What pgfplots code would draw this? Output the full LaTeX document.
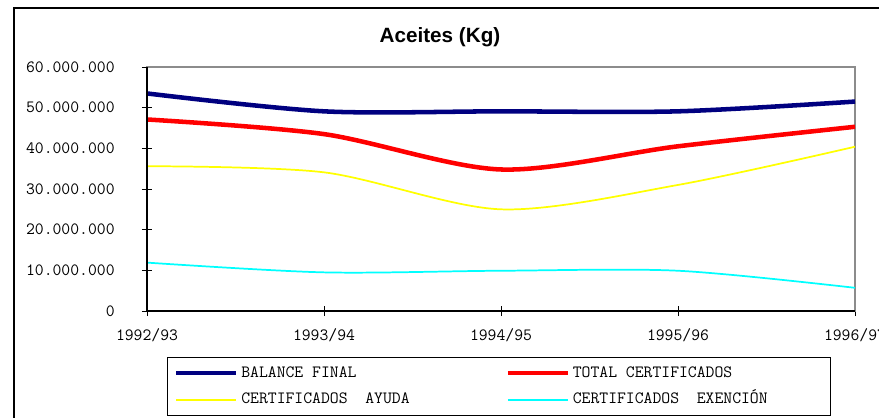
\documentclass[border=0pt]{standalone}
\usepackage{fontspec}
\setmainfont{Liberation Sans}
\usepackage{pgfplots}
\pgfplotsset{compat=1.18}
\definecolor{cNavy}{RGB}{0,0,128}
\definecolor{cRed}{RGB}{255,0,0}
\definecolor{cYellow}{RGB}{255,255,0}
\definecolor{cCyan}{RGB}{0,255,255}
\begin{document}
\begin{tikzpicture}
\useasboundingbox (0pt,0pt) rectangle (659.25pt,313.5pt);
\draw[line width=0.9pt] (10.5pt,0pt) -- (10.5pt,307.5pt) -- (659.25pt,307.5pt);
\node[font=\fontsize{15.5}{18}\selectfont\bfseries] at (330pt,285.75pt) {Aceites (Kg)};
\begin{axis}[
  at={(110.25pt,80.25pt)}, anchor=south west,
  width=531pt, height=183pt, scale only axis,
  xmin=0, xmax=4, ymin=0, ymax=60000000,
  xtick={0,1,2,3,4},
  xticklabels={1992/93,1993/94,1994/95,1995/96,1996/97},
  ytick={0,10000000,20000000,30000000,40000000,50000000,60000000},
  yticklabels={0,10.000.000,20.000.000,30.000.000,40.000.000,50.000.000,60.000.000},
  scaled y ticks=false,
  tick pos=left,
  tick align=center,
  major tick length=7.5pt,
  tick style={black, line width=0.7pt},
  axis line style={draw=gray!90, line width=0.9pt},
  ticklabel style={font=\ttfamily\fontsize{12.9}{14}\selectfont},
  yticklabel style={xshift=-17pt},
  xticklabel style={yshift=-6pt},
  clip=false,
  legend columns=2,
  legend style={
    at={(axis description cs:0.0282,-0.1885)}, anchor=north west,
    draw=black, line width=0.75pt,
    font=\ttfamily\fontsize{12.9}{14}\selectfont,
    nodes={text height=7.5pt, text depth=1.5pt},
    inner xsep=5pt, inner ysep=5.3pt,
    row sep=6.9pt,
    cells={anchor=west},
    /tikz/column 2/.style={column sep=70pt},
  },
  legend image code/.code={\draw[#1] (0pt,0pt) -- (45pt,0pt);},
]
\addplot[cNavy, line width=3.4pt, smooth] coordinates {(0,53500000) (1,49100000) (2,49100000) (3,49100000) (4,51500000)};
\addlegendentry{BALANCE FINAL}
\addplot[cRed, line width=3.4pt, smooth] coordinates {(0,47100000) (1,43500000) (2,34800000) (3,40500000) (4,45300000)};
\addlegendentry{TOTAL CERTIFICADOS}
\addplot[cYellow, line width=1.3pt, smooth] coordinates {(0,35600000) (1,34100000) (2,25000000) (3,31000000) (4,40400000)};
\addlegendentry{CERTIFICADOS\ \ AYUDA}
\addplot[cCyan, line width=1.3pt, smooth] coordinates {(0,11900000) (1,9500000) (2,9900000) (3,9900000) (4,5700000)};
\addlegendentry{CERTIFICADOS\ \ EXENCIÓN\hspace*{40pt}}
\draw[black, line width=1.1pt] (rel axis cs:0,1) -- (rel axis cs:0,0) -- (rel axis cs:1,0);
\end{axis}
\end{tikzpicture}
\end{document}
